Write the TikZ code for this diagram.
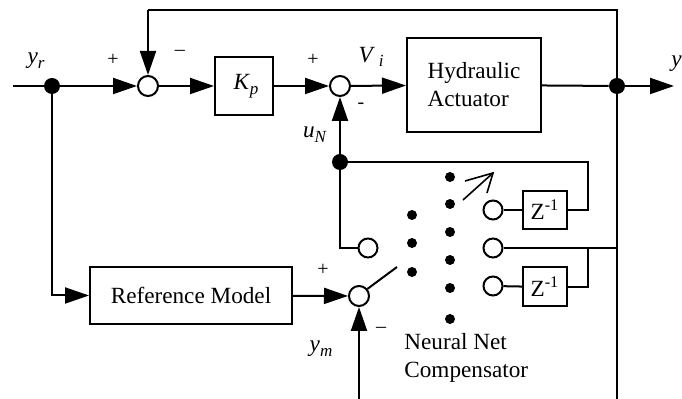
\documentclass[tikz,border=0pt]{standalone}
\usepackage{fontspec}
\setmainfont{Liberation Serif}
\usetikzlibrary{arrows.meta}
\newcommand\sbs[1]{\raisebox{-0.2em}{\fontsize{8.5}{8.5}\selectfont #1}}
\tikzset{
 ln/.style={line width=1pt},
 arr/.style={ln,-{Triangle[length=12pt,width=8pt]}},
 sumc/.style={circle,draw,line width=1pt,minimum size=10pt,inner sep=0pt,fill=white},
 jdot/.style={circle,fill,minimum size=8pt,inner sep=0pt},
 ndot/.style={circle,fill,minimum size=5pt,inner sep=0pt},
 pole/.style={circle,draw,line width=1pt,minimum size=9.5pt,inner sep=0pt},
 blk/.style={draw,line width=1pt,inner sep=0pt},
 lbl/.style={inner sep=0pt,font=\fontsize{11.6}{14}\selectfont},
 slbl/.style={inner sep=0pt,font=\fontsize{10}{12}\selectfont}
}
\begin{document}
\begin{tikzpicture}[x=0.5pt,y=-0.5pt]
\useasboundingbox (0,0) rectangle (682,399);
% main nodes
\coordinate (in) at (13,86);
\node[jdot] (yrd) at (52,86) {};
\node[sumc] (s1) at (148,86) {};
\node[blk,minimum width=29pt,minimum height=29pt] (kp) at (244,86) {};
\node[lbl] at (246,86) {\textit{K}\sbs{\textit{p}}};
\node[sumc] (s2) at (340,86) {};
\node[blk,minimum width=67pt,minimum height=47pt,lbl,align=left] (ha) at (474,85) {Hydraulic\\Actuator};
\node[jdot] (od) at (617,86) {};
\coordinate (yout) at (674,86);
\coordinate (tr) at (617,10);
\coordinate (tl) at (148,10);
\coordinate (bot) at (617,399);
% neural net part
\node[jdot] (und) at (340,162) {};
\node[pole] (cp) at (368,248) {};
\node[pole] (c1) at (493,210) {};
\node[pole] (c2) at (493,248) {};
\node[pole] (c3) at (493,286) {};
\node[blk,minimum width=22pt,minimum height=19pt,lbl] (z1) at (545,210) {Z\textsuperscript{-1}};
\node[blk,minimum width=22pt,minimum height=19.5pt,lbl] (z2) at (545,287) {Z\textsuperscript{-1}};
\coordinate (k1) at (588,162);
\coordinate (k2) at (588,248);
\coordinate (k3) at (617,248);
\foreach \yy in {215,243,272} \node[ndot] at (412,\yy) {};
\foreach \yy in {177,204,232,260,288,319} \node[ndot] at (450,\yy) {};
% reference model
\node[blk,minimum width=101pt,minimum height=28.5pt,lbl] (rm) at (191,295.5) {Reference Model};
\node[sumc] (s3) at (359,296) {};
\coordinate (bm) at (359,399);
\coordinate (bl) at (397,267);
% connectors
\draw[ln] (in) -- (yrd);
\draw[arr] (yrd) -- (s1);
\draw[arr] (s1) -- (kp);
\draw[arr] (kp) -- (s2);
\draw[arr] (s2) -- (ha);
\draw[ln] (ha) -- (od);
\draw[arr] (od) -- (yout);
\draw[ln] (bot) -- (tr) -- (tl);
\draw[arr] (tl) -- (s1);
\draw[arr] (und) -- (s2);
\draw[ln] (und) |- (cp);
\draw[ln] (z1.east) -| (k1) -- (und);
\draw[ln] (c1) -- (z1);
\draw[ln] (c3) -- (z2);
\draw[ln] (c2) -- (k3);
\draw[ln] (z2.east) -| (k2);
\draw[arr] (yrd) |- (rm);
\draw[arr] (rm) -- (s3);
\draw[arr] (bm) -- (s3);
\draw[ln] (s3.40) -- (bl);
% switch arrow
\coordinate (a1) at (463,200);
\coordinate (a2) at (493,173);
\coordinate (w1) at (465,181);
\coordinate (w2) at (487,193);
\draw[line width=0.8pt] (a1) -- (a2);
\draw[line width=0.8pt] (w1) -- (a2) -- (w2);
% labels
\node[lbl] at (36,61) {\textit{y}\sbs{\textit{r}}};
\node[slbl] at (113,60) {+};
\node[slbl] at (180,53) {\textendash};
\node[slbl] at (313,60) {+};
\node[lbl] at (371,57) {\textit{V}\,\sbs{\textit{i}}};
\node[slbl] at (361,106) {-};
\node[lbl] at (315,135) {\textit{u}\sbs{\textit{N}}};
\node[slbl] at (323,270) {+};
\node[slbl] at (381,330) {\textendash};
\node[lbl] at (321,349) {\textit{y}\sbs{\textit{m}}};
\node[lbl,anchor=west,align=left] at (404,358) {Neural Net\\Compensator};
\node[lbl,anchor=east] at (682,64) {\textit{y}};
\end{tikzpicture}
\end{document}
